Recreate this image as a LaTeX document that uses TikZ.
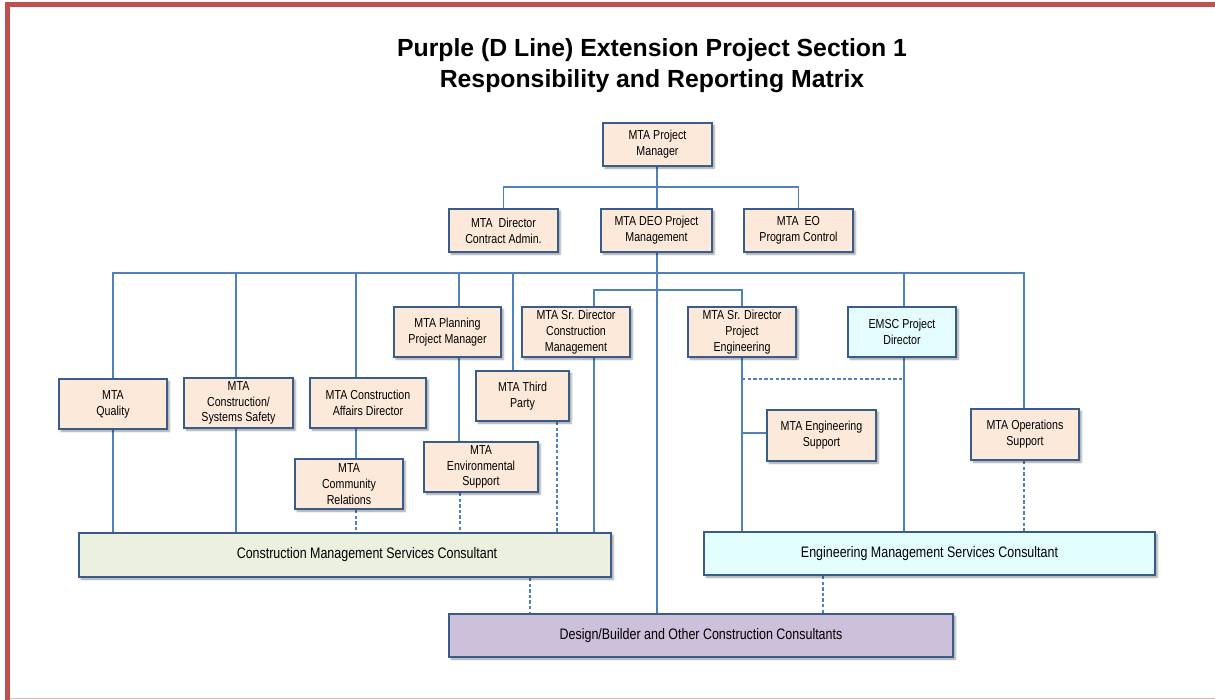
\documentclass[tikz,border=0pt]{standalone}
\usepackage{fontspec}
\setmainfont{Liberation Sans}
\newfontfamily\narrowfont[FakeStretch=0.82]{Liberation Sans}
\usetikzlibrary{shadows.blur,backgrounds}
\definecolor{framered}{HTML}{C0504D}
\definecolor{framepink}{HTML}{E6B8B7}
\definecolor{peach}{HTML}{FDE9D9}
\definecolor{cyanbox}{HTML}{E4FCFE}
\definecolor{olivebox}{HTML}{EBF1DE}
\definecolor{emcbox}{HTML}{E3FEFF}
\definecolor{lavbox}{HTML}{CCC0DA}
\definecolor{boxblue}{HTML}{385D8A}
\definecolor{lineblue}{HTML}{4F81BD}
\tikzset{
  boxbase/.style={draw=boxblue, line width=1.5pt, inner sep=1pt, align=center,
    blur shadow={shadow xshift=1.6pt, shadow yshift=-1.6pt, shadow blur radius=1.5pt, shadow opacity=40}},
  smallbox/.style={boxbase, fill=peach, font=\narrowfont\fontsize{9.75pt}{11.9pt}\selectfont},
  cyansmall/.style={smallbox, fill=cyanbox},
  bigbox/.style={boxbase, font=\narrowfont\fontsize{11.4pt}{13pt}\selectfont},
  conn/.style={draw=lineblue, line width=0.95pt},
  dconn/.style={conn, dash pattern=on 2.6pt off 1.6pt},
  titlef/.style={inner sep=0pt, font=\bfseries\fontsize{18.6pt}{22pt}\selectfont}
}
\newcommand\mybox[7]{\node[#6, minimum width={(#4-#2)*0.75pt}, minimum height={(#5-#3)*0.75pt}] (#1) at ({(#2+#4)/2},{(#3+#5)/2}) {#7};}
\begin{document}
\begin{tikzpicture}[x=0.75pt, y=-0.75pt]
\useasboundingbox (0,0) rectangle (1215,700);
% frame
\fill[framered] (5,2) rectangle (1215,7);
\fill[framered] (5,2) rectangle (10,700);
\draw[framepink, line width=1.1pt] (10,698.5) -- (1215,698.5);
% title
\node[titlef, anchor=base] (t1) at (652,56) {Purple (D Line) Extension Project Section 1};
\node[titlef, anchor=base] (t2) at (652,87) {Responsibility and Reporting Matrix};
% boxes
\mybox{pm}{603}{123}{712}{166}{smallbox}{MTA Project\\Manager}
\mybox{dca}{449}{209}{558}{252}{smallbox}{MTA\ \ Director\\Contract Admin.}
\mybox{deo}{601}{209}{712}{252}{smallbox}{MTA DEO Project\\Management}
\mybox{eo}{744}{209}{853}{252}{smallbox}{MTA\ \ EO\\Program Control}
\mybox{pl}{394}{307}{501}{357}{smallbox}{MTA Planning\\Project Manager}
\mybox{scm}{522}{307}{630}{357}{smallbox}{MTA Sr. Director\\Construction\\Management}
\mybox{spe}{688}{307}{796}{357}{smallbox}{MTA Sr. Director\\Project\\Engineering}
\mybox{emsc}{848}{307}{956}{357}{cyansmall}{EMSC Project\\Director}
\mybox{q}{59}{379}{167}{429}{smallbox}{MTA\\Quality}
\mybox{css}{184}{378}{293}{428}{smallbox}{MTA\\Construction/\\Systems Safety}
\mybox{cad}{310}{378}{426}{428}{smallbox}{MTA Construction\\Affairs Director}
\mybox{tp}{476}{371}{569}{421}{smallbox}{MTA Third\\Party}
\mybox{es}{424}{442}{538}{492}{smallbox}{MTA\\Environmental\\Support}
\mybox{cr}{295}{459}{403}{509}{smallbox}{MTA\\Community\\Relations}
\mybox{eng}{767}{410}{876}{461}{smallbox}{MTA Engineering\\Support}
\mybox{ops}{971}{409}{1079}{460}{smallbox}{MTA Operations\\Support}
\mybox{cmsc}{79}{533}{611}{577}{bigbox, fill=olivebox}{\hspace*{33pt}Construction Management Services Consultant}
\mybox{emc}{704}{532}{1155}{575}{bigbox, fill=emcbox}{Engineering Management Services Consultant}
\mybox{db}{449}{614}{953}{657}{bigbox, fill=lavbox}{Design/Builder and Other Construction Consultants}
% helper coordinates
\coordinate (b1) at (0,187);
\coordinate (b2) at (0,273);
\coordinate (b3) at (0,290);
\coordinate (dashy) at (0,379);
\coordinate (engy) at (0,433);
\coordinate (xq) at (113,0);
\coordinate (xcss) at (236,0);
\coordinate (xcad) at (356,0);
\coordinate (xpl) at (459,0);
\coordinate (xes) at (460,0);
\coordinate (xtp) at (513,0);
\coordinate (xtpd) at (557,0);
\coordinate (xscm) at (594,0);
\coordinate (xdeo) at (657,0);
\coordinate (xspe) at (742,0);
\coordinate (xemsc) at (904,0);
\coordinate (xops) at (1024,0);
\coordinate (xcmd) at (530,0);
\coordinate (xemd) at (823,0);
\begin{pgfonlayer}{background}
\draw[conn] (pm.south -| xdeo) -- (deo.north -| xdeo);
\draw[conn] (dca.north) -- (dca.north |- b1) -- (eo.north |- b1) -- (eo.north);
\draw[conn] (deo.south -| xdeo) -- (db.north -| xdeo);
\draw[conn] (q.north -| xq) -- (b2 -| xq) -- (b2 -| xops) -- (ops.north -| xops);
\draw[conn] (b2 -| xcss) -- (css.north -| xcss);
\draw[conn] (b2 -| xcad) -- (cad.north -| xcad);
\draw[conn] (b2 -| xpl) -- (pl.north -| xpl);
\draw[conn] (b2 -| xtp) -- (tp.north -| xtp);
\draw[conn] (b2 -| xemsc) -- (emsc.north -| xemsc);
\draw[conn] (scm.north -| xscm) -- (b3 -| xscm) -- (b3 -| xspe) -- (spe.north -| xspe);
\draw[conn] (q.south -| xq) -- (cmsc.north -| xq);
\draw[conn] (css.south -| xcss) -- (cmsc.north -| xcss);
\draw[conn] (scm.south -| xscm) -- (cmsc.north -| xscm);
\draw[conn] (cad.south -| xcad) -- (cr.north -| xcad);
\draw[conn] (pl.south -| xpl) -- (es.north -| xpl);
\draw[conn] (spe.south -| xspe) -- (emc.north -| xspe);
\draw[conn] (emsc.south -| xemsc) -- (emc.north -| xemsc);
\draw[conn] (eng.west |- engy) -- (engy -| xspe);
\draw[dconn] (cr.south -| xcad) -- (cmsc.north -| xcad);
\draw[dconn] (es.south -| xes) -- (cmsc.north -| xes);
\draw[dconn] (tp.south -| xtpd) -- (cmsc.north -| xtpd);
\draw[dconn] (ops.south -| xops) -- (emc.north -| xops);
\draw[dconn] (cmsc.south -| xcmd) -- (db.north -| xcmd);
\draw[dconn] (emc.south -| xemd) -- (db.north -| xemd);
\draw[dconn] (dashy -| xspe) -- (dashy -| xemsc);
\end{pgfonlayer}
\end{tikzpicture}
\end{document}
